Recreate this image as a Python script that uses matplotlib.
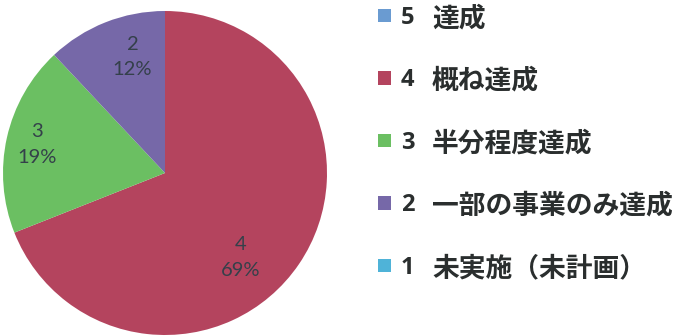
import matplotlib
matplotlib.use("Agg")
import matplotlib.pyplot as plt
from matplotlib.patches import Patch
import numpy as np

plt.rcParams['font.family'] = ['Noto Sans CJK JP', 'DejaVu Sans']

# data
codes = ["5", "4", "3", "2", "1"]
names = ["達成", "概ね達成", "半分程度達成", "一部の事業のみ達成", "未実施（未計画）"]
shares = [0, 69, 19, 12, 0]
colors = ["#6A9BD1", "#B4445E", "#6BBF62", "#7668A8", "#4FB3D8"]

fig = plt.figure(figsize=(6.78, 3.36), dpi=100)
ax = fig.add_axes([3 / 678, 1 / 336, 324 / 678, 324 / 336])

wedges, texts = ax.pie(shares, colors=colors, startangle=90, counterclock=False,
                       radius=1, wedgeprops=dict(linewidth=0))
ax.set_xlim(-1, 1)
ax.set_ylim(-1, 1)
ax.set_aspect("equal")
ax.axis("off")

# slice labels: distance from centre and small angle nudge (Excel "best fit" look)
lab_dist = {"4": 0.70, "3": 0.81, "2": 0.745}
lab_nudge = {"4": 14, "3": 0, "2": 6}
total = sum(shares)
cum = 0
for c, v in zip(codes, shares):
    if v == 0:
        continue
    mid = (cum + v / 2) / total * 360 + lab_nudge[c]
    cum += v
    ang = np.deg2rad(90 - mid)
    r = lab_dist[c]
    ax.text(r * np.cos(ang), r * np.sin(ang), f"{c}\n{v}%", ha="center", va="center",
            fontsize=14.5, color="#34404A", family=["Lato", "DejaVu Sans"],
            linespacing=1.6)

handles = [Patch(facecolor=col, edgecolor="none") for col in colors]
leg = fig.legend(handles, codes, loc="upper left",
                 bbox_to_anchor=(378 / 678, 1.0 - 6 / 336),
                 frameon=False, prop=dict(family="Open Sans", weight="bold", size=17),
                 handlelength=0.55, handleheight=0.51, handletextpad=0.42,
                 labelspacing=1.63, borderaxespad=0, borderpad=0)
for t in leg.get_texts():
    t.set_color("#2A2E2E")

# names next to the numbers, aligned with each legend row
fig.canvas.draw()
r = fig.canvas.get_renderer()
for t, n in zip(leg.get_texts(), names):
    bb = t.get_window_extent(r)
    yc = (bb.y0 + bb.y1) / 2
    fig.text(432 / 678, yc / fig.bbox.height, n, ha="left", va="center",
             fontsize=19.3, fontweight="bold", color="#2A2E2E")

fig.savefig("out.png", dpi=100, facecolor="white")
